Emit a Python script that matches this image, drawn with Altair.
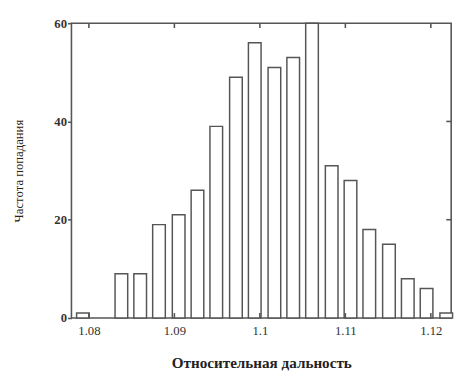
import altair as alt
import pandas as pd

# Histogram bin centres (relative range) and counts
bin_centers = [1.0793, 1.0838, 1.0860, 1.0882, 1.0905, 1.0927, 1.0949, 1.0972,
               1.0994, 1.1017, 1.1039, 1.1061, 1.1084, 1.1106, 1.1128, 1.1151,
               1.1173, 1.1195, 1.1218]
counts = [1, 9, 9, 19, 21, 26, 39, 49, 56, 51, 53, 64, 31, 28, 18, 15, 8, 6, 1]
bar_half_width = 0.00074
x_ticks = [1.08, 1.09, 1.1, 1.11, 1.12]
y_ticks = [0, 20, 40, 60]
right_tick_values = [20, 40]
x_domain = [1.07796, 1.12238]
y_domain = [0, 60]

W, H = 389, 302
GRAY = "#555555"
LW = 1.6

df = pd.DataFrame({"c": bin_centers, "n": counts})
df["x0"] = df["c"] - bar_half_width
df["x1"] = df["c"] + bar_half_width

xs = alt.Scale(domain=x_domain, nice=False, zero=False)
ys = alt.Scale(domain=y_domain, nice=False, clamp=True)

bars = alt.Chart(df).mark_bar(fill="white", stroke=GRAY, strokeWidth=1.5).encode(
    x=alt.X("x0:Q", scale=xs,
            axis=alt.Axis(values=x_ticks, format="~g", ticks=False, grid=False,
                          domain=False, labelPadding=7,
                          labelFont="Liberation Serif", labelFontSize=13,
                          labelColor="#333333",
                          title="Относительная дальность", titleFont="Liberation Serif",
                          titleFontSize=15.5, titleFontWeight="bold", titleColor="#222222",
                          titlePadding=19)),
    x2="x1:Q",
    y=alt.Y("n:Q", scale=ys,
            axis=alt.Axis(values=y_ticks, grid=False, domain=False, ticks=True,
                          tickSize=4, tickColor=GRAY, tickWidth=LW,
                          labelPadding=1, minExtent=40, maxExtent=40,
                          labelFont="Liberation Sans Narrow", labelFontSize=13,
                          labelFontWeight="bold", labelColor="#333333",
                          title="Частота попадания", titleFont="Liberation Serif",
                          titleFontSize=13, titleFontWeight="normal", titleColor="#222222",
                          titlePadding=7)),
    y2=alt.datum(0),
)

tdf = pd.DataFrame({"t": x_ticks})
top_ticks = alt.Chart(tdf).mark_rule(color=GRAY, strokeWidth=LW).encode(
    x=alt.X("t:Q", scale=xs), y=alt.value(0), y2=alt.value(5))
bot_ticks = alt.Chart(tdf).mark_rule(color=GRAY, strokeWidth=LW).encode(
    x=alt.X("t:Q", scale=xs), y=alt.value(H - 5), y2=alt.value(H))

rdf = pd.DataFrame({"v": right_tick_values})
right_ticks = alt.Chart(rdf).mark_rule(color=GRAY, strokeWidth=LW).encode(
    y=alt.Y("v:Q", scale=ys), x=alt.value(W - 5), x2=alt.value(W))

chart = alt.layer(bars, top_ticks, bot_ticks, right_ticks).properties(
    width=W, height=H,
).configure_view(stroke=GRAY, strokeWidth=LW)

chart.save("out.html", embed_options={"renderer": "svg", "actions": False})
